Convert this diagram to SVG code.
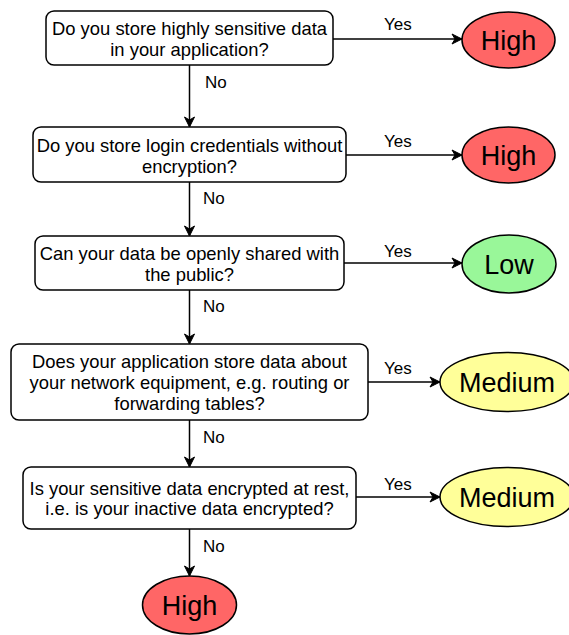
<svg xmlns="http://www.w3.org/2000/svg" width="569" height="635" viewBox="0 0 569 635">
  <defs>
    <marker id="arrow" viewBox="0 0 12 12" refX="11" refY="6" markerWidth="12" markerHeight="12" markerUnits="userSpaceOnUse" orient="auto">
      <path d="M1,1 L11,6 L1,11 L4,6 Z" fill="#000" stroke="#000" stroke-width="1"/>
    </marker>
    <style>
      .box { fill: #fff; stroke: #000; stroke-width: 1.5; }
      .q { font-family: "Liberation Sans", Arial, sans-serif; font-size: 18.4px; fill: #000; text-anchor: middle; }
      .lbl { font-family: "Liberation Sans", Arial, sans-serif; font-size: 17px; fill: #000; }
      .risk { font-family: "Liberation Sans", Arial, sans-serif; font-size: 27px; fill: #000; text-anchor: middle; }
      .high { fill: #FF6666; stroke: #000; stroke-width: 1.5; }
      .low { fill: #99F799; stroke: #000; stroke-width: 1.5; }
      .med { fill: #FFFF99; stroke: #000; stroke-width: 1.5; }
      .edge { fill: none; stroke: #000; stroke-width: 1.5; marker-end: url(#arrow); }
    </style>
  </defs>

  <!-- connectors -->
  <g id="connectors">
    <line class="edge" x1="333" y1="39" x2="462" y2="39"/>
    <line class="edge" x1="346" y1="155" x2="462" y2="155"/>
    <line class="edge" x1="344" y1="263" x2="462" y2="263"/>
    <line class="edge" x1="368" y1="382" x2="440" y2="382"/>
    <line class="edge" x1="356" y1="497" x2="440" y2="497"/>
    <line class="edge" x1="189.5" y1="65" x2="189.5" y2="127"/>
    <line class="edge" x1="189.5" y1="182" x2="189.5" y2="236"/>
    <line class="edge" x1="189.5" y1="290" x2="189.5" y2="344"/>
    <line class="edge" x1="189.5" y1="420" x2="189.5" y2="467"/>
    <line class="edge" x1="189.5" y1="529" x2="189.5" y2="576"/>
    <text class="lbl" x="384" y="30">Yes</text>
    <text class="lbl" x="384" y="147">Yes</text>
    <text class="lbl" x="384" y="257">Yes</text>
    <text class="lbl" x="384" y="374">Yes</text>
    <text class="lbl" x="384" y="490">Yes</text>
    <text class="lbl" x="205" y="88">No</text>
    <text class="lbl" x="203" y="204">No</text>
    <text class="lbl" x="203" y="312">No</text>
    <text class="lbl" x="203" y="443">No</text>
    <text class="lbl" x="203" y="552">No</text>
  </g>

  <!-- questions -->
  <g id="q1">
    <rect class="box" x="46" y="11" width="287" height="54" rx="8"/>
    <text class="q" x="189.5" y="35">Do you store highly sensitive data</text>
    <text class="q" x="189.5" y="56">in your application?</text>
  </g>
  <g id="q2">
    <rect class="box" x="33" y="127" width="313" height="55" rx="8"/>
    <text class="q" x="189.5" y="151.5">Do you store login credentials without</text>
    <text class="q" x="189.5" y="172.5">encryption?</text>
  </g>
  <g id="q3">
    <rect class="box" x="35" y="236" width="309" height="54" rx="8"/>
    <text class="q" x="189.5" y="259.5">Can your data be openly shared with</text>
    <text class="q" x="189.5" y="280.5">the public?</text>
  </g>
  <g id="q4">
    <rect class="box" x="11" y="344" width="357" height="76" rx="8"/>
    <text class="q" x="189.5" y="367.5">Does your application store data about</text>
    <text class="q" x="189.5" y="388.5">your network equipment, e.g. routing or</text>
    <text class="q" x="189.5" y="409.5">forwarding tables?</text>
  </g>
  <g id="q5">
    <rect class="box" x="23" y="467" width="333" height="62" rx="8"/>
    <text class="q" x="189.5" y="494.5">Is your sensitive data encrypted at rest,</text>
    <text class="q" x="189.5" y="515">i.e. is your inactive data encrypted?</text>
  </g>

  <!-- outcomes -->
  <g id="r1">
    <ellipse class="high" cx="508.5" cy="40" rx="46.5" ry="28"/>
    <text class="risk" x="508.5" y="49.5">High</text>
  </g>
  <g id="r2">
    <ellipse class="high" cx="508.5" cy="155" rx="46.5" ry="28"/>
    <text class="risk" x="508.5" y="164.5">High</text>
  </g>
  <g id="r3">
    <ellipse class="low" cx="509" cy="264" rx="47" ry="29"/>
    <text class="risk" x="509" y="273.5">Low</text>
  </g>
  <g id="r4">
    <ellipse class="med" cx="507" cy="382" rx="67" ry="29.5"/>
    <text class="risk" x="507" y="391.5">Medium</text>
  </g>
  <g id="r5">
    <ellipse class="med" cx="507" cy="497" rx="67" ry="29.5"/>
    <text class="risk" x="507" y="506.5">Medium</text>
  </g>
  <g id="r6">
    <ellipse class="high" cx="189.5" cy="605" rx="47" ry="29"/>
    <text class="risk" x="189.5" y="614.5">High</text>
  </g>
</svg>
